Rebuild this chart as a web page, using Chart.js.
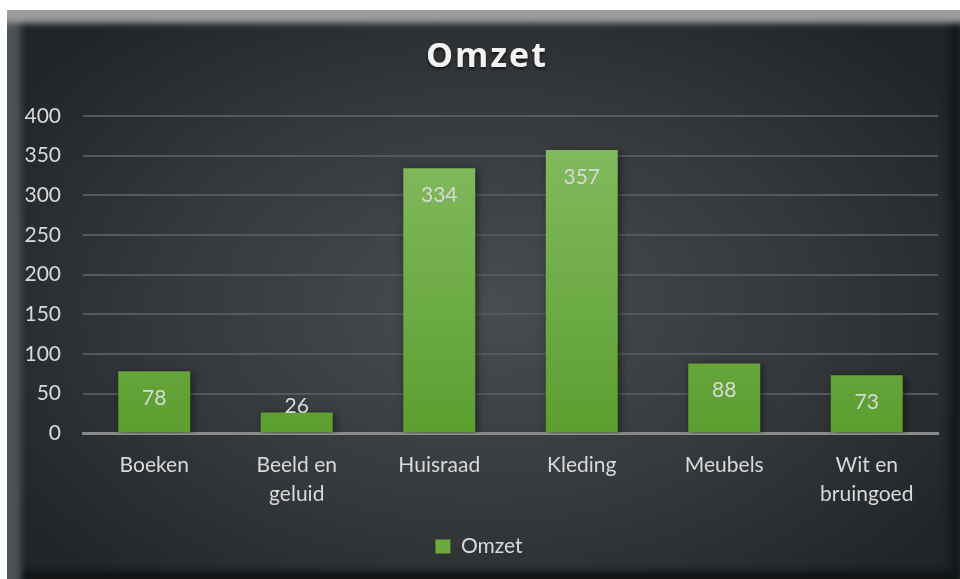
<!DOCTYPE html>
<html>
<head>
<meta charset="utf-8">
<script src="https://cdn.jsdelivr.net/npm/chart.js@4.4.0/dist/chart.umd.min.js"></script>
<style>
    body { margin: 0; background: #ffffff; width: 960px; height: 579px; overflow: hidden; position: relative; }
    #frame {
        position: absolute; left: 7px; top: 10px; width: 953px; height: 569px;
        background: radial-gradient(ellipse 60% 65% at 50% 52%, #4a4d50 0%, #36393c 55%, #222528 100%);
        box-shadow: inset 0 17px 6px -4px #9c9d9e, inset 18px 0 6px -4px #4c5155, inset -16px 0 8px -6px #141618, inset 0 -12px 6px -4px #121416;
    }
    #wrap { position: absolute; left: 0; top: 0; width: 960px; height: 579px; }
</style>
</head>
<body>
<div id="frame"></div>
<div id="wrap"><canvas id="barChart" width="960" height="579"></canvas></div>
<script>
const TITLE = "Omzet";
const categories = [["Boeken"], ["Beeld en", "geluid"], ["Huisraad"], ["Kleding"], ["Meubels"], ["Wit en", "bruingoed"]];
const omzetValues = [78, 26, 334, 357, 88, 73];
const yTicks = [0, 50, 100, 150, 200, 250, 300, 350, 400];

// title with letter spacing (canvas text)
const titlePlugin = {
    id: "titlePlugin",
    afterDraw(chart) {
        const ctx = chart.ctx;
        ctx.save();
        ctx.font = "bold 34px 'Open Sans'";
        ctx.letterSpacing = "2px";
        ctx.fillStyle = "#f2f2f2";
        ctx.textAlign = "center";
        ctx.textBaseline = "middle";
        ctx.shadowColor = "rgba(0,0,0,0.6)";
        ctx.shadowBlur = 3;
        ctx.shadowOffsetY = 2;
        ctx.fillText(TITLE, 487, 57);
        ctx.restore();
    }
};

// value labels inside end of bars
const valueLabels = {
    id: "valueLabels",
    afterDatasetsDraw(chart) {
        const ctx = chart.ctx;
        const meta = chart.getDatasetMeta(0);
        ctx.save();
        ctx.font = "21px Lato";
        ctx.fillStyle = "#d9d9d9";
        ctx.textAlign = "center";
        ctx.textBaseline = "middle";
        meta.data.forEach(function (bar, i) {
            let y = Math.min(bar.y + 27, bar.base - 26);
            ctx.fillText(String(omzetValues[i]), bar.x, y);
        });
        ctx.restore();
    }
};

// drop shadow behind bars
const barShadow = {
    id: "barShadow",
    beforeDatasetsDraw(chart) {
        chart.ctx.save();
        chart.ctx.shadowColor = "rgba(0,0,0,0.55)";
        chart.ctx.shadowBlur = 8;
        chart.ctx.shadowOffsetX = 2;
        chart.ctx.shadowOffsetY = 2;
    },
    afterDatasetsDraw(chart) {
        chart.ctx.restore();
    }
};

function barGradient(context) {
    const chart = context.chart;
    const area = chart.chartArea;
    if (!area) return "#6aab3e";
    const g = chart.ctx.createLinearGradient(0, area.top, 0, area.bottom);
    g.addColorStop(0, "#86bd62");
    g.addColorStop(1, "#5c9e30");
    return g;
}

var ctx = document.getElementById("barChart").getContext("2d");
var barChart = new Chart(ctx, {
    type: "bar",
    data: {
        labels: categories,
        datasets: [{
            label: "Omzet",
            data: omzetValues,
            backgroundColor: barGradient,
            categoryPercentage: 1,
            barPercentage: 0.505
        }]
    },
    options: {
        responsive: false,
        animation: false,
        layout: { padding: { top: 116, left: 20, right: 22, bottom: 12 } },
        scales: {
            y: {
                min: 0,
                max: 400,
                afterBuildTicks: function (scale) {
                    scale.ticks = yTicks.map(v => ({ value: v }));
                },
                afterFit: function (scale) { scale.width = 63; },
                ticks: { color: "#d9d9d9", font: { family: "Lato", size: 21 }, padding: 22 },
                grid: { color: "#55595d", lineWidth: 2, drawTicks: false },
                border: { display: false }
            },
            x: {
                ticks: { color: "#d9d9d9", font: { family: "Lato", size: 21, lineHeight: 1.4 }, padding: 17, maxRotation: 0 },
                grid: { display: false, drawTicks: false },
                border: { display: true, color: "#8a8a8a", width: 3 }
            }
        },
        plugins: {
            legend: {
                position: "bottom",
                labels: {
                    color: "#d9d9d9",
                    font: { family: "Lato", size: 21 },
                    boxWidth: 15,
                    boxHeight: 14,
                    padding: 10,
                    generateLabels: function (chart) {
                        return [{ text: "Omzet", fillStyle: "#6aab3e", strokeStyle: "#6aab3e", lineWidth: 0, fontColor: "#d9d9d9", datasetIndex: 0 }];
                    }
                }
            },
            tooltip: { enabled: false }
        }
    },
    plugins: [barShadow, valueLabels, titlePlugin]
});
</script>
</body>
</html>
